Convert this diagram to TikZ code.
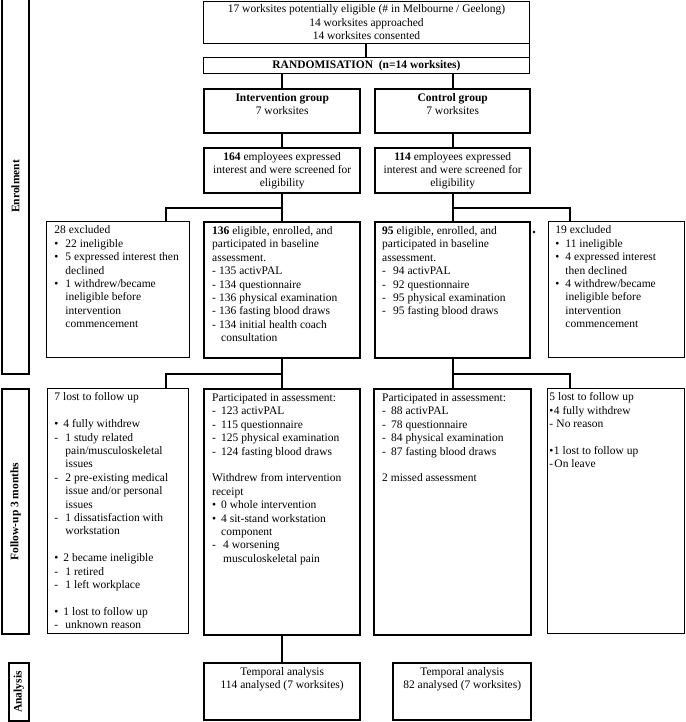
\documentclass[tikz,border=0pt]{standalone}
\usepackage{fontspec}
\setmainfont{Liberation Serif}
\usepackage{graphicx}
\usetikzlibrary{calc}

\newcommand{\boxtext}[4]{\parbox[t][#2][t]{#1}{\raggedright\leftskip=#3\relax\strut #4}}
\newcommand{\boxtextc}[3]{\parbox[t][#2][t]{#1}{\centering\strut #3}}
\newcommand{\mk}[2]{\makebox[#1][l]{#2}}
\newcommand{\ind}[1]{\hspace*{#1}}

\tikzset{
  plainbox/.style={draw, line width=0.9pt, anchor=north west, inner xsep=0pt, inner ysep=3pt},
  stagebox/.style={draw, line width=2.4pt, anchor=north west, inner xsep=0pt, inner ysep=3pt},
  sidebox/.style={draw, line width=2pt, anchor=north west, inner sep=0pt},
  link/.style={line width=2pt},
}

\begin{document}
\begin{tikzpicture}[x=1pt,y=1pt,every node/.style={font=\fontsize{11.5pt}{13.4pt}\selectfont}]
\useasboundingbox (0,0) rectangle (685,-722);

% stage labels on the left
\node[sidebox, minimum width=27pt, minimum height=375pt] (sideEnrol) at (1,2) {\rotatebox{90}{\textbf{Enrolment}}};
\node[sidebox, minimum width=27pt, minimum height=245pt] (sideFU) at (1,-388) {\rotatebox{90}{\textbf{Follow-up 3 months}}};
\node[sidebox, minimum width=20pt, minimum height=58pt] (sideAn) at (8,-662) {\rotatebox{90}{\textbf{Analysis}}};

% recruitment
\node[plainbox, minimum width=326pt, minimum height=42pt, align=center, inner sep=1pt] (top) at (203,-1)
  {17 worksites potentially eligible (\# in Melbourne / Geelong)\\14 worksites approached\\14 worksites consented};
\node[plainbox, minimum width=326pt, minimum height=16pt, inner sep=1pt] (rand) at (203,-57)
  {\textbf{RANDOMISATION\ \ (n=14 worksites)}};

% groups
\node[stagebox] (intGrp) at (203,-88) {\boxtextc{156pt}{38pt}{\textbf{Intervention group}\\7 worksites}};
\node[stagebox] (ctrlGrp) at (374,-88) {\boxtextc{155pt}{38pt}{\textbf{Control group}\\7 worksites}};

\node[stagebox, minimum width=156pt, minimum height=45pt, align=center, inner sep=1pt] (intScr) at (203,-147)
  {\textbf{164} employees expressed\\interest and were screened for\\eligibility};
\node[stagebox, minimum width=155pt, minimum height=45pt, align=center, inner sep=1pt] (ctrlScr) at (374,-147)
  {\textbf{114} employees expressed\\interest and were screened for\\eligibility};

% baseline
\node[plainbox] (exclL) at (46,-221) {\boxtext{143pt}{130pt}{8pt}{28 excluded\\
  \mk{11pt}{\textbullet}22 ineligible\\
  \mk{11pt}{\textbullet}5 expressed interest then\\
  \ind{11pt}declined\\
  \mk{11pt}{\textbullet}1 withdrew/became\\
  \ind{11pt}ineligible before\\
  \ind{11pt}intervention\\
  \ind{11pt}commencement}};
\node[stagebox] (intEnr) at (203,-221) {\boxtext{156pt}{130pt}{8pt}{\textbf{136} eligible, enrolled, and\\
  participated in baseline\\
  assessment.\\
  \mk{7pt}{-}135 activPAL\\
  \mk{7pt}{-}134 questionnaire\\
  \mk{7pt}{-}136 physical examination\\
  \mk{7pt}{-}136 fasting blood draws\\
  \mk{7pt}{-}134 initial health coach\\
  \ind{9pt}consultation}};
\node[stagebox] (ctrlEnr) at (374,-221) {\boxtext{155pt}{130pt}{7pt}{\textbf{95} eligible, enrolled, and\\
  participated in baseline\\
  assessment.\\
  \mk{11pt}{-}94 activPAL\\
  \mk{11pt}{-}92 questionnaire\\
  \mk{11pt}{-}95 physical examination\\
  \mk{11pt}{-}95 fasting blood draws}};
\node[plainbox] (exclR) at (548,-221) {\boxtext{136pt}{130pt}{7pt}{19 excluded\\
  \mk{10pt}{\textbullet}11 ineligible\\
  \mk{10pt}{\textbullet}4 expressed interest\\
  \ind{10pt}then declined\\
  \mk{10pt}{\textbullet}4 withdrew/became\\
  \ind{10pt}ineligible before\\
  \ind{10pt}intervention\\
  \ind{10pt}commencement}};
\node[circle, fill, inner sep=0pt, minimum size=2.6pt] (dot) at (534,-232) {};

% follow-up
\node[plainbox] (lostL) at (47,-388) {\boxtext{141pt}{239pt}{7pt}{7 lost to follow up\\[13.4pt]
  \mk{9pt}{\textbullet}4 fully withdrew\\
  \mk{11pt}{-}1 study related\\
  \ind{11pt}pain/musculoskeletal\\
  \ind{11pt}issues\\
  \mk{11pt}{-}2 pre-existing medical\\
  \ind{11pt}issue and/or personal\\
  \ind{11pt}issues\\
  \mk{11pt}{-}1 dissatisfaction with\\
  \ind{11pt}workstation\\[13.4pt]
  \mk{9pt}{\textbullet}2 became ineligible\\
  \mk{11pt}{-}1 retired\\
  \mk{11pt}{-}1 left workplace\\[13.4pt]
  \mk{9pt}{\textbullet}1 lost to follow up\\
  \mk{11pt}{-}unknown reason}};
\node[stagebox] (intFU) at (203,-388) {\boxtext{156pt}{240pt}{8pt}{Participated in assessment:\\
  \mk{9pt}{-}123 activPAL\\
  \mk{9pt}{-}115 questionnaire\\
  \mk{9pt}{-}125 physical examination\\
  \mk{9pt}{-}124 fasting blood draws\\[13.4pt]
  Withdrew from intervention\\
  receipt\\
  \mk{9pt}{\textbullet}0 whole intervention\\
  \mk{9pt}{\textbullet}4 sit-stand workstation\\
  \ind{9pt}component\\
  \mk{11pt}{-}4 worsening\\
  \ind{11pt}musculoskeletal pain}};
\node[stagebox] (ctrlFU) at (373,-388) {\boxtext{157pt}{240pt}{8pt}{Participated in assessment:\\
  \mk{9pt}{-}88 activPAL\\
  \mk{9pt}{-}78 questionnaire\\
  \mk{9pt}{-}84 physical examination\\
  \mk{9pt}{-}87 fasting blood draws\\[13.4pt]
  2 missed assessment}};
\node[plainbox] (lostR) at (547,-388) {\boxtext{137pt}{239pt}{2pt}{5 lost to follow up\\
  \mk{4.5pt}{\textbullet}4 fully withdrew\\
  \mk{7pt}{-}No reason\\[13.4pt]
  \mk{4.5pt}{\textbullet}1 lost to follow up\\
  \mk{5pt}{-}On leave}};

% analysis
\node[stagebox] (intAn) at (203,-662) {\boxtextc{156pt}{51pt}{Temporal analysis\\114 analysed (7 worksites)}};
\node[stagebox] (ctrlAn) at (392,-662) {\boxtextc{138pt}{51pt}{Temporal analysis\\82 analysed (7 worksites)}};

% connectors
\draw[link] (top.south) -- (rand.north);
\draw[line width=0.9pt] (top.south east) -- (rand.north east);
\draw[link] (rand.south -| intGrp.north) -- (intGrp.north);
\draw[link] (rand.south -| ctrlGrp.north) -- (ctrlGrp.north);
\draw[link] (intGrp.south) -- (intScr.north);
\draw[link] (ctrlGrp.south) -- (ctrlScr.north);
\draw[link] (intScr.south) -- (intEnr.north);
\draw[link] (ctrlScr.south) -- (ctrlEnr.north);
\coordinate (forkL1) at ($(intScr.south)!0.5!(intEnr.north)$);
\coordinate (forkR1) at ($(ctrlScr.south)!0.5!(ctrlEnr.north)$);
\draw[link] (forkL1) -| ([xshift=-24pt]exclL.north east);
\draw[link] (forkR1) -| ([xshift=22pt]exclR.north west);
\draw[link] (intEnr.south) -- (intFU.north);
\draw[link] (ctrlEnr.south) -- (ctrlFU.north);
\coordinate (forkL2) at ($(intEnr.south)!0.5!(intFU.north)$);
\coordinate (forkR2) at ($(ctrlEnr.south)!0.5!(ctrlFU.north)$);
\draw[link] (forkL2) -| ([xshift=-23pt]lostL.north east);
\draw[link] (forkR2) -| ([xshift=23pt]lostR.north west);
\draw[link] (intFU.south) -- (intAn.north);

\end{tikzpicture}
\end{document}
